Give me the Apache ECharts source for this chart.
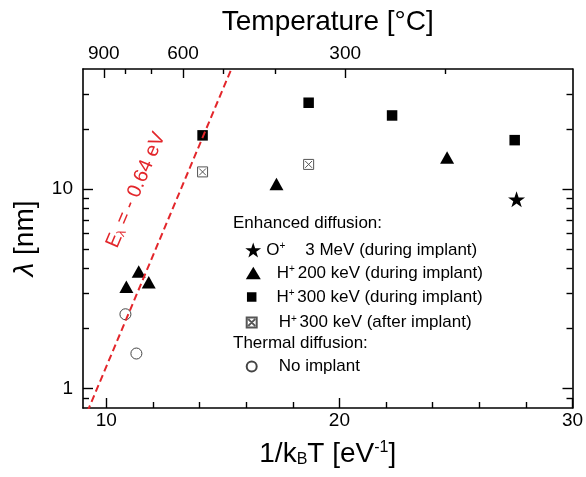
<!DOCTYPE html>
<html><head><meta charset="utf-8">
<script src="https://cdn.jsdelivr.net/npm/echarts@6/dist/echarts.min.js"></script>
<style>html,body{margin:0;padding:0;background:#fff}#c{width:586px;height:477px}</style>
</head><body><div id="c"></div>
<script>
const FONT = "'Liberation Sans', Arial, Helvetica, sans-serif";
// data points: [1/kBT (eV^-1), lambda (nm)]
const starO3MeV = [[27.6, 8.9]];
const triH200 = [[10.86, 3.24], [11.39, 3.87], [11.82, 3.41], [17.30, 10.6], [24.62, 14.4]];
const sqH300during = [[14.13, 18.6], [18.68, 27.1], [22.26, 23.4], [27.52, 17.6]];
const sqH300after = [[14.13, 12.2], [18.68, 13.3]];
const circNoImplant = [[10.82, 2.36], [11.29, 1.50]];
// end points of the E = -0.64 eV guide line (clipped by the plot area)
const guideLine = [[9.0, 0.68], [15.6, 46.5]];
// axes
const xMin = 9, xMax = 30;
const yMin = 0.8, yMax = 40;
const xMajorTicks = [10, 20, 30];
const xMinorTicks = [12, 14, 16, 18, 22, 24, 26, 28];
const yMajorTicks = [1, 10];
const yMinorTicks = [0.9, 2, 3, 4, 5, 6, 7, 8, 9, 20, 30];
const tempMajorTicks = [900, 600, 300];
const tempMinorTicks = [800, 700, 500, 400, 200];

const KB = 8.617333262e-5;
const tempToX = t => 1 / (KB * (t + 273.15));
const xToTemp = x => 1 / (KB * x) - 273.15;
const lg = v => Math.log10(v);
const toPts = arr => arr.map(p => [p[0], lg(p[1])]);

const RED = '#e3262b';
const STAR = 'path://M50,0 L61.8,35.1 L98.1,35.1 L68.7,56.8 L79.4,91.2 L50,70 L20.6,91.2 L31.3,56.8 L1.9,35.1 L38.2,35.1 Z';
const XBOX = 'path://M0,0 H10 V10 H0 Z M1.6,1.6 L8.4,8.4 M8.4,1.6 L1.6,8.4';

const lineStyleK = {color: '#000', width: 1.6};
function xAxisDef(pos, ticks, len, showLine, extra) {
  return Object.assign({
    type: 'value', min: xMin, max: xMax, position: pos,
    axisLine: {show: showLine, onZero: false, lineStyle: lineStyleK},
    axisTick: {show: true, inside: true, length: len, customValues: ticks, lineStyle: {color: '#000', width: 1.4}},
    axisLabel: {show: false},
    splitLine: {show: false}
  }, extra || {});
}
function yAxisDef(pos, ticks, len, showLine, extra) {
  return Object.assign({
    type: 'value', min: lg(yMin), max: lg(yMax), position: pos,
    axisLine: {show: showLine, onZero: false, lineStyle: lineStyleK},
    axisTick: {show: true, inside: true, length: len, customValues: ticks.map(lg), lineStyle: {color: '#000', width: 1.4}},
    axisLabel: {show: false},
    splitLine: {show: false}
  }, extra || {});
}
const labelStyle = {color: '#000', fontSize: 19, fontFamily: FONT};

const richLeg = {
  t: {fontSize: 17, fontFamily: FONT, color: '#000'},
  p: {fontSize: 10, fontFamily: FONT, color: '#000', verticalAlign: 'top'},
  g1: {width: 11}, g2: {width: 15}, g3: {width: 17}, gs: {width: 20}
};
const legendText = {
  'O3': '{t|O}{p|+}{gs| }{t|3 MeV (during implant)}',
  'H200': '{g1| }{t|H}{p|+ }{t|200 keV (during implant)}',
  'H300d': '{g2| }{t|H}{p|+ }{t|300 keV (during implant)}',
  'H300a': '{g3| }{t|H}{p|+ }{t|300 keV (after implant)}',
  'none': '{g3| }{t|No implant}'
};
function legendDef(name, cx, cy, iw, ih) {
  return {
    show: true, data: [name], left: cx - iw / 2, top: cy - 8.5, padding: 0,
    itemWidth: iw, itemHeight: ih, itemGap: 0, selectedMode: false,
    formatter: n => legendText[n],
    itemStyle: {opacity: 1},
    textStyle: {fontSize: 17, fontFamily: FONT, color: '#000', rich: richLeg}
  };
}

const option = {
  backgroundColor: '#fff',
  animation: false,
  grid: {left: 83, right: 13.5, top: 69, bottom: 69, containLabel: false, outerBoundsMode: 'none'},
  xAxis: [
    xAxisDef('bottom', xMajorTicks, 10, true, {
      axisLabel: {show: true, customValues: xMajorTicks, margin: 3, ...labelStyle},
      name: '{t|1/k}{s|B}{t|T [eV}{p|-1}{t|]}', nameLocation: 'middle', nameGap: 32,
      nameTextStyle: {fontFamily: FONT, color: '#000', rich: {
        t: {fontSize: 28, fontFamily: FONT, color: '#000'},
        s: {fontSize: 16, fontFamily: FONT, color: '#000', verticalAlign: 'bottom'},
        p: {fontSize: 16, fontFamily: FONT, color: '#000', verticalAlign: 'top'}
      }}
    }),
    xAxisDef('bottom', xMinorTicks, 6, false),
    xAxisDef('top', tempMajorTicks.map(tempToX), 9, true, {
      axisLabel: {show: true, customValues: tempMajorTicks.map(tempToX), margin: 6,
        formatter: v => String(Math.round(xToTemp(v))), ...labelStyle},
      name: 'Temperature [°C]', nameLocation: 'middle', nameGap: 33,
      nameTextStyle: {fontSize: 28, fontFamily: FONT, color: '#000'}
    }),
    xAxisDef('top', tempMinorTicks.map(tempToX), 5, false)
  ],
  yAxis: [
    yAxisDef('left', yMajorTicks, 10, true, {
      axisLabel: {show: true, customValues: yMajorTicks.map(lg), margin: 10,
        formatter: v => String(Math.round(Math.pow(10, v))), ...labelStyle},
      name: '{i|λ}{t| [nm]}', nameLocation: 'middle', nameGap: 44,
      nameTextStyle: {fontFamily: FONT, color: '#000', rich: {
        i: {fontSize: 28, fontFamily: FONT, color: '#000', fontStyle: 'italic'},
        t: {fontSize: 28, fontFamily: FONT, color: '#000'}
      }}
    }),
    yAxisDef('left', yMinorTicks, 6, false),
    yAxisDef('right', yMajorTicks, 10, true),
    yAxisDef('right', yMinorTicks, 6, false)
  ],
  legend: [
    legendDef('O3', 253.3, 250, 16, 15),
    legendDef('H200', 253.3, 273, 15, 12.5),
    legendDef('H300d', 251.7, 297, 9.5, 9.5),
    legendDef('H300a', 250.7, 322.5, 10, 10),
    legendDef('none', 250.7, 366.5, 10, 10)
  ],
  graphic: [
    {type: 'text', x: 233, y: 223.5, style: {text: 'Enhanced diffusion:', fontSize: 17, fontFamily: FONT, fill: '#000', align: 'left', verticalAlign: 'middle'}},
    {type: 'text', x: 233, y: 343.5, style: {text: 'Thermal diffusion:', fontSize: 17, fontFamily: FONT, fill: '#000', align: 'left', verticalAlign: 'middle'}},
    {type: 'text', x: 136, y: 190, rotation: 67 * Math.PI / 180,
      style: {text: '{e|E}{l|λ}{e| = - 0.64 eV}', fill: RED, align: 'center', verticalAlign: 'middle',
        rich: {
          e: {fontSize: 20, fontFamily: FONT, fill: RED},
          l: {fontSize: 12, fontFamily: FONT, fill: RED, verticalAlign: 'bottom'}
        }}}
  ],
  series: [
    {name: 'O3', type: 'scatter', data: toPts(starO3MeV), symbol: STAR, symbolSize: [17, 16],
      itemStyle: {color: '#000', opacity: 1}},
    {name: 'H200', type: 'scatter', data: toPts(triH200), symbol: 'triangle', symbolSize: [14, 12.5],
      itemStyle: {color: '#000', opacity: 1}},
    {name: 'H300d', type: 'scatter', data: toPts(sqH300during), symbol: 'rect', symbolSize: 10.5,
      itemStyle: {color: '#000', opacity: 1}},
    {name: 'H300a', type: 'scatter', data: toPts(sqH300after), symbol: XBOX, symbolSize: 10,
      itemStyle: {color: '#fff', borderColor: '#555', borderWidth: 1, opacity: 1}},
    {name: 'none', type: 'scatter', data: toPts(circNoImplant), symbol: 'circle', symbolSize: 11,
      itemStyle: {color: '#fff', borderColor: '#444', borderWidth: 1, opacity: 1}},
    {name: 'guide', type: 'line', data: toPts(guideLine), symbol: 'none', clip: true, z: 5,
      lineStyle: {color: RED, width: 2, type: [7, 4]}}
  ]
};
const chart = echarts.init(document.getElementById('c'), null, {renderer: 'canvas'});
chart.setOption(option);
</script>
</body></html>
